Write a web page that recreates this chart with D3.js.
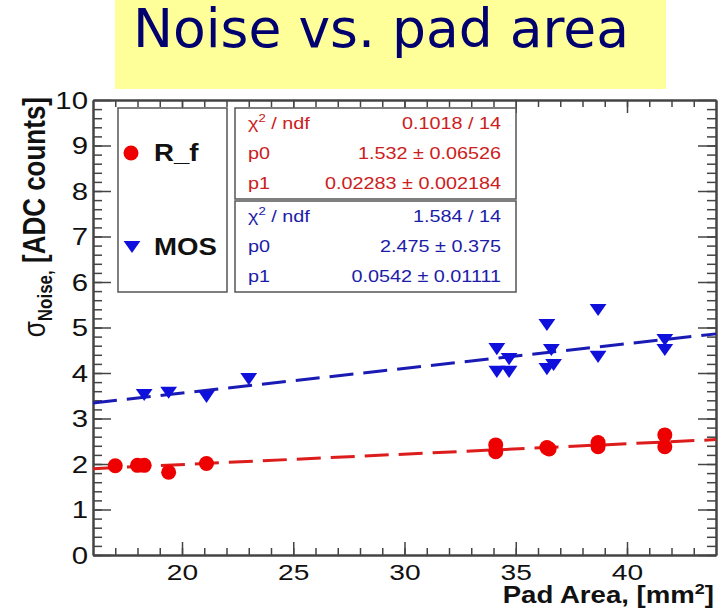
<!DOCTYPE html>
<html>
<head>
    <meta charset="UTF-8">
    <title>Noise vs. pad area</title>
    <script type="text/javascript" src="https://d3js.org/d3.v7.min.js"></script>
    <style>
        body { margin: 0; background: #fff; }
        svg { display: block; }
        .axis path, .axis line { stroke: #444; }
    </style>
</head>
<body>
    <div id="chart"></div>
    <script>
        // data
        var rfArea  = [17.0, 18.0, 18.3, 19.4, 21.1, 34.1, 34.1, 36.4, 36.5, 38.7, 38.7, 41.7, 41.7];
        var rfNoise = [1.96, 1.97, 1.97, 1.82, 2.01, 2.42, 2.27, 2.36, 2.33, 2.47, 2.38, 2.64, 2.38];

        var mosArea  = [18.3, 19.4, 21.1, 23.0, 34.15, 34.15, 34.7, 34.7, 36.4, 36.4, 36.6, 36.7, 38.7, 38.7, 41.7, 41.7];
        var mosNoise = [3.56, 3.61, 3.52, 3.91, 4.57, 4.07, 4.35, 4.07, 5.10, 4.13, 4.55, 4.22, 5.43, 4.40, 4.77, 4.55];

        // linear fit results (p0 + p1*x)
        var rfFit  = {p0: 1.532, p1: 0.02283};
        var mosFit = {p0: 2.475, p1: 0.0542};

        var rfStats  = [["χ", "0.1018 / 14"], ["p0", "1.532 ± 0.06526"], ["p1", "0.02283 ± 0.002184"]];
        var mosStats = [["χ", "1.584 / 14"], ["p0", "2.475 ± 0.375"], ["p1", "0.0542 ± 0.01111"]];

        var xMajor = [20, 25, 30, 35, 40];
        var yMajor = [0, 1, 2, 3, 4, 5, 6, 7, 8, 9, 10];

        var width = 722, height = 613;
        var sx = 1.25; // the original plot is stretched sideways
        var red = "#ee0000", blue = "#1010dd";

        var svg = d3.select("#chart").append("svg")
            .attr("width", width).attr("height", height);

        // title banner
        svg.append("rect")
            .attr("x", 115).attr("y", 0).attr("width", 551).attr("height", 89)
            .attr("fill", "#ffff99");
        svg.append("text")
            .attr("x", 133).attr("y", 47)
            .attr("font-family", "DejaVu Sans").attr("font-size", 53.5)
            .attr("fill", "#00006e")
            .text("Noise vs. pad area");

        var x = d3.scaleLinear().domain([16, 44]).range([93, 716]);
        var y = d3.scaleLinear().domain([0, 10]).range([555, 100]);

        var minorX = d3.range(17, 44);
        var minorY = d3.range(0, 50).map(function (i) { return i / 5; });

        function addAxis(axis, tx, ty) {
            var g = svg.append("g").attr("class", "axis")
                .attr("transform", "translate(" + tx + "," + ty + ")")
                .call(axis);
            g.select(".domain").attr("stroke-width", 2);
            g.selectAll("line").attr("stroke-width", 1.5);
            return g;
        }

        // minor ticks
        addAxis(d3.axisBottom(x).tickValues(minorX).tickSize(-7).tickSizeOuter(0).tickFormat(""), 0, 555);
        addAxis(d3.axisTop(x).tickValues(minorX).tickSize(-7).tickSizeOuter(0).tickFormat(""), 0, 100);
        addAxis(d3.axisLeft(y).tickValues(minorY).tickSize(-9).tickSizeOuter(0).tickFormat(""), 93, 0);
        addAxis(d3.axisRight(y).tickValues(minorY).tickSize(-9).tickSizeOuter(0).tickFormat(""), 716, 0);

        // major ticks
        var gx = addAxis(d3.axisBottom(x).tickValues(xMajor).tickSize(-13).tickSizeOuter(0), 0, 555);
        addAxis(d3.axisTop(x).tickValues(xMajor).tickSize(-13).tickSizeOuter(0).tickFormat(""), 0, 100);
        var gy = addAxis(d3.axisLeft(y).tickValues(yMajor).tickSize(-18).tickSizeOuter(0), 93, 0);
        addAxis(d3.axisRight(y).tickValues(yMajor).tickSize(-18).tickSizeOuter(0).tickFormat(""), 716, 0);

        gx.selectAll("text")
            .attr("y", 25).attr("dy", 0)
            .attr("transform", "scale(" + sx + ",1)")
            .attr("font-family", "Liberation Sans, Arial").attr("font-size", 22.5)
            .attr("fill", "#111");
        gy.selectAll("text")
            .attr("x", -4).attr("dy", 0).attr("y", 8)
            .attr("transform", "scale(" + sx + ",1)")
            .attr("font-family", "Liberation Sans, Arial").attr("font-size", 23.5)
            .attr("fill", "#111");

        // axis titles
        var xt = svg.append("text")
            .attr("transform", "translate(714,603) scale(1.2,1)")
            .attr("text-anchor", "end")
            .attr("font-family", "Liberation Sans, Arial").attr("font-weight", "bold")
            .attr("font-size", 23).attr("fill", "#111");
        xt.append("tspan").text("Pad Area, [mm");
        xt.append("tspan").attr("font-size", 15).attr("dy", -9).text("2");
        xt.append("tspan").attr("dy", 9).text("]");

        var yt = svg.append("text")
            .attr("transform", "translate(45,97) scale(1.2,1) rotate(-90)")
            .attr("text-anchor", "end")
            .attr("font-family", "Liberation Sans, Arial")
            .attr("font-size", 26).attr("fill", "#111");
        yt.append("tspan").text("σ");
        yt.append("tspan").attr("font-weight", "bold").attr("font-size", 17).attr("dy", 6).text("Noise,");
        yt.append("tspan").attr("font-weight", "bold").attr("dy", -6).text(" [ADC counts]");

        // fit lines
        var dom = x.domain();
        [[rfFit, "#dd1c1c"], [mosFit, "#1a1ab4"]].forEach(function (f) {
            svg.append("line")
                .attr("x1", x(dom[0])).attr("y1", y(f[0].p0 + f[0].p1 * dom[0]))
                .attr("x2", x(dom[1])).attr("y2", y(f[0].p0 + f[0].p1 * dom[1]))
                .attr("stroke", f[1]).attr("stroke-width", 3)
                .attr("stroke-dasharray", "24,10");
        });

        // markers
        var tri = d3.symbol().type(d3.symbolTriangle).size(85);
        svg.selectAll(".rf").data(rfArea).enter().append("circle")
            .attr("class", "rf")
            .attr("cx", function (d) { return x(d); })
            .attr("cy", function (d, i) { return y(rfNoise[i]); })
            .attr("r", 7.5).attr("fill", red);
        svg.selectAll(".mos").data(mosArea).enter().append("path")
            .attr("class", "mos")
            .attr("d", tri)
            .attr("transform", function (d, i) {
                return "translate(" + x(d) + "," + y(mosNoise[i]) + ") scale(1.2,1) rotate(180)";
            })
            .attr("fill", blue);

        // legend
        svg.append("rect")
            .attr("x", 118).attr("y", 108).attr("width", 109).attr("height", 184)
            .attr("fill", "#fff").attr("stroke", "#555").attr("stroke-width", 1.5);
        svg.append("circle").attr("cx", 131).attr("cy", 153).attr("r", 7.5).attr("fill", red);
        svg.append("path").attr("d", tri)
            .attr("transform", "translate(132,245) scale(1.2,1) rotate(180)")
            .attr("fill", blue);
        [["R_f", 161], ["MOS", 255]].forEach(function (l) {
            svg.append("text")
                .attr("transform", "translate(154," + l[1] + ") scale(1.2,1)")
                .attr("font-family", "Liberation Sans, Arial").attr("font-weight", "bold")
                .attr("font-size", 23).attr("fill", "#111")
                .text(l[0]);
        });

        // stat boxes
        function statBox(rows, top, color) {
            svg.append("rect")
                .attr("x", 235).attr("y", top).attr("width", 281).attr("height", 91)
                .attr("fill", "#fff").attr("stroke", "#555").attr("stroke-width", 1.5);
            rows.forEach(function (r, i) {
                var by = top + 21 + i * 30;
                var lab = svg.append("text")
                    .attr("transform", "translate(248," + by + ") scale(1.2,1)")
                    .attr("font-family", "Liberation Sans, Arial").attr("font-size", 16.5)
                    .attr("fill", color);
                if (r[0] === "χ") {
                    lab.append("tspan").text("χ");
                    lab.append("tspan").attr("font-size", 11).attr("dy", -7).text("2");
                    lab.append("tspan").attr("dy", 7).text(" / ndf");
                } else {
                    lab.text(r[0]);
                }
                svg.append("text")
                    .attr("transform", "translate(501," + by + ") scale(1.2,1)")
                    .attr("text-anchor", "end")
                    .attr("font-family", "Liberation Sans, Arial").attr("font-size", 16.5)
                    .attr("fill", color)
                    .text(r[1]);
            });
        }
        statBox(rfStats, 108, "#cc2020");
        statBox(mosStats, 201, "#1c1ca8");
    </script>
</body>
</html>
